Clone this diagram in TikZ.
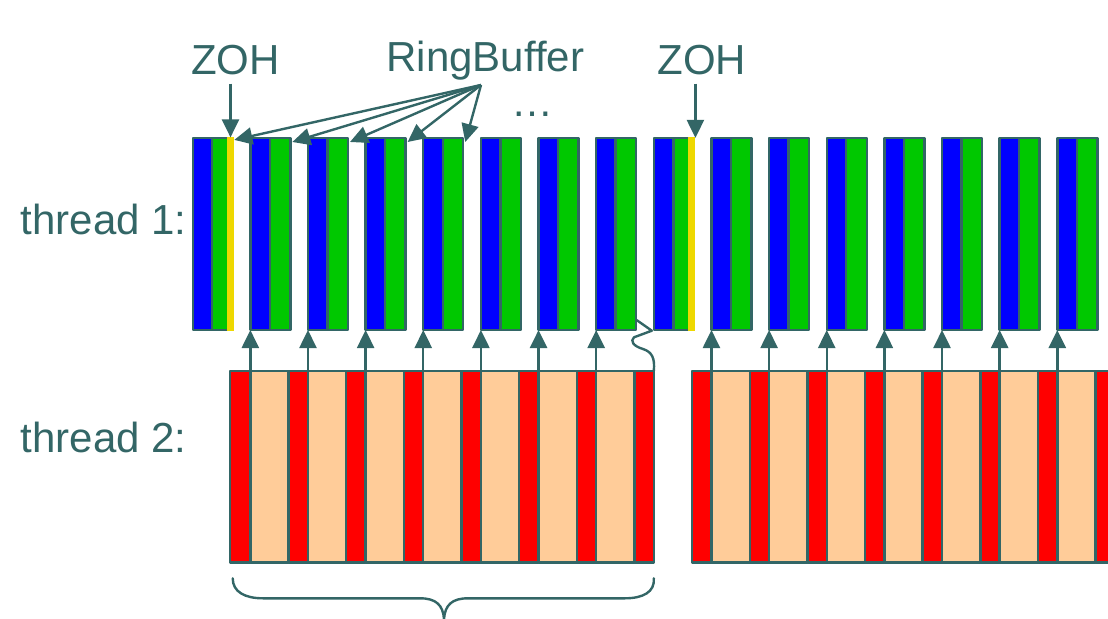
\documentclass[tikz,border=0pt]{standalone}
\usepackage{fontspec}
\setmainfont{Liberation Sans}
\usetikzlibrary{arrows.meta,calc}
\definecolor{slate}{RGB}{51,102,102}
\definecolor{cblue}{RGB}{0,0,255}
\definecolor{cgreen}{RGB}{0,200,0}
\definecolor{cyellow}{RGB}{238,216,0}
\definecolor{cred}{RGB}{255,0,0}
\definecolor{cpeach}{RGB}{255,204,153}
\begin{document}
\begin{tikzpicture}[x=1bp,y=-1bp,line join=round,
  cell/.style={draw=slate, line width=2.4bp, inner sep=0pt, outer sep=0pt, minimum height=192bp},
  bcell/.style={cell, fill=cblue, minimum width=19.5bp},
  gcell/.style={cell, fill=cgreen, minimum width=20.5bp},
  ycell/.style={fill=cyellow, inner sep=0pt, outer sep=0pt, minimum width=7.6bp, minimum height=193.4bp},
  tcell/.style={draw=slate, line width=2.4bp, inner sep=0pt, outer sep=0pt, minimum height=191.6bp},
  rcell/.style={tcell, fill=cred},
  pcell/.style={tcell, fill=cpeach, minimum width=38.3bp},
  conn/.style={draw=slate, line width=2.4bp, -{Triangle[length=18bp 0 0,width=17bp 0 0]}},
  plain/.style={draw=slate, line width=2.4bp, line cap=round},
  lbl/.style={text=slate, font=\fontsize{42bp}{48bp}\selectfont, inner sep=0pt, anchor=base}]
\useasboundingbox (0,0) rectangle (1108,619);

% thread 1: blue/green sample blocks
\foreach \i in {0,...,15} {
  \pgfmathsetmacro\s{192.7+57.64*\i}
  \node[bcell, anchor=north west] (b\i) at (\s,138) {};
  \node[gcell, anchor=north west] (g\i) at (b\i.north east) {};
}
% zero-order-hold strips
\foreach \i in {0,8} {
  \node[ycell, anchor=north west] (y\i) at ([xshift=34bp,yshift=0.6bp]b\i.north west) {};
}

% thread 2: left group
\node[rcell, anchor=north west, minimum width=20.34bp] (r0) at (230,370.7) {};
\foreach \i in {1,...,7} {
  \pgfmathsetmacro\s{192.7+57.64*\i}
  \node[pcell, anchor=north west] (p\i) at (\s,370.7) {};
  \node[rcell, anchor=north west, minimum width=19.34bp] (r\i) at (p\i.north east) {};
}
% thread 2: right group
\node[rcell, anchor=north west, minimum width=19.76bp] (r8) at (691.7,370.7) {};
\foreach \i in {9,...,15} {
  \pgfmathsetmacro\s{192.7+57.64*\i}
  \node[pcell, anchor=north west] (p\i) at (\s,370.7) {};
  \node[rcell, anchor=north west, minimum width=19.34bp] (r\i) at (p\i.north east) {};
}

% handover arrows from thread 2 to thread 1
\foreach \i in {1,...,7,9,10,...,15} {
  \draw[conn] (p\i.north west) -- (b\i.south west);
}
% late handover (squiggle with open head)
\draw[plain] (r7.north east) .. controls (655,358) and (652,352) .. (643,349)
  .. controls (633,346) and (630,341) .. (634,337.3)
  -- ([xshift=-2bp,yshift=-0.7bp]b8.south west) -- ++(-15,-10.5);

% labels
\node[lbl] (zoh1) at (235.5,75) {ZOH};
\node[lbl] (zoh2) at (701.7,75) {ZOH};
\node[lbl] (rb) at (485.3,72) {RingBuffer};
\node[lbl] (dots) at (532.5,117) {…};
\node[lbl, anchor=base west] (th1) at (20.5,235) {thread 1:};
\node[lbl, anchor=base west] (th2) at (20.5,452) {thread 2:};

% ZOH markers
\draw[conn] ([yshift=-8bp]y0.north |- zoh1.south) -- (y0.north);
\draw[conn] ([yshift=-8bp]y8.north east |- zoh2.south) -- ([yshift=-0.5bp]y8.north east);

% ring buffer fan
\coordinate (fan) at (481,85);
\draw[conn] (fan) -- ([yshift=-2.5bp]y0.north east);
\foreach \i in {1,...,4} {
  \draw[conn] (fan) -- ([xshift=2bp,yshift=-4bp]g\i.north east);
}

% brace under the left group
\coordinate (brL) at ($(r0.south west)+(2.7,16)$);
\coordinate (brR) at ($(r7.south east)+(0,16)$);
\draw[plain] (brL) .. controls (232.7,592) and (245,598.3) .. (263,598.3)
  -- (420,598.3) .. controls (436,598.3) and (443,605) .. (444,619)
  .. controls (445,605) and (452,598.3) .. (468,598.3)
  -- (625,598.3) .. controls (643,598.3) and (655,592) .. (brR);
\end{tikzpicture}
\end{document}
